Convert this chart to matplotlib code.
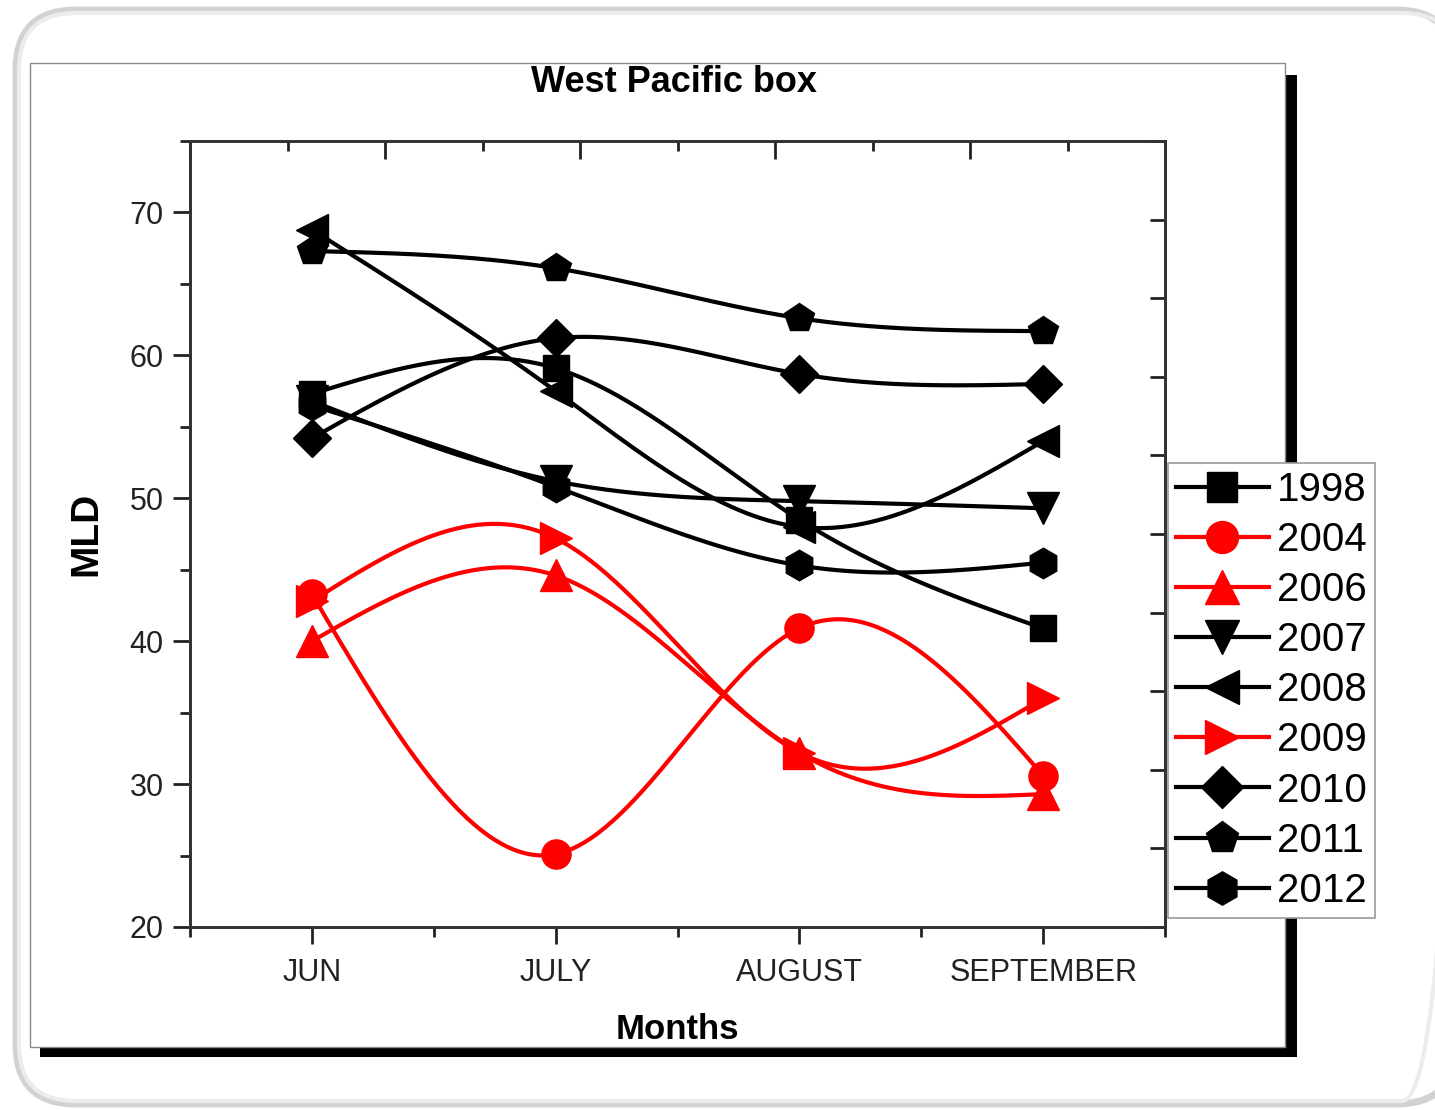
import numpy as np
import matplotlib
matplotlib.use('Agg')
import matplotlib.pyplot as plt
from matplotlib.patches import FancyBboxPatch, Rectangle
from matplotlib.lines import Line2D
from matplotlib.ticker import MultipleLocator

plt.rcParams['font.family'] = ['Liberation Sans', 'DejaVu Sans']

# Mittlere Mischungsschichttiefe (MLD) je Monat und Jahr
months = ['JUN', 'JULY', 'AUGUST', 'SEPTEMBER']
years = ['1998', '2004', '2006', '2007', '2008', '2009', '2010', '2011', '2012']
mld_1998 = [57.3, 59.1, 48.5, 40.9]
mld_2004 = [43.3, 25.1, 40.9, 30.6]
mld_2006 = [40.0, 44.6, 32.2, 29.3]
mld_2007 = [56.8, 51.2, 49.8, 49.3]
mld_2008 = [68.8, 57.5, 48.0, 54.0]
mld_2009 = [42.8, 47.2, 32.2, 36.0]
mld_2010 = [54.2, 61.2, 58.7, 58.0]
mld_2011 = [67.3, 66.1, 62.6, 61.7]
mld_2012 = [56.5, 50.8, 45.3, 45.5]

series = [mld_1998, mld_2004, mld_2006, mld_2007, mld_2008,
          mld_2009, mld_2010, mld_2011, mld_2012]
colors = ['black', 'red', 'red', 'black', 'black', 'red', 'black', 'black', 'black']
markers = ['s', 'o', '^', 'v', '<', '>', 'D', 'p', 'h']
msizes = [19, 21, 23, 23, 23, 23, 19, 22, 22]


def natural_spline(x, y, n=200):
    # natuerlicher kubischer Spline durch die Messpunkte
    x = np.asarray(x, float)
    y = np.asarray(y, float)
    k = len(x)
    h = np.diff(x)
    A = np.zeros((k, k))
    r = np.zeros(k)
    A[0, 0] = A[-1, -1] = 1
    for i in range(1, k - 1):
        A[i, i - 1] = h[i - 1]
        A[i, i] = 2 * (h[i - 1] + h[i])
        A[i, i + 1] = h[i]
        r[i] = 3 * ((y[i + 1] - y[i]) / h[i] - (y[i] - y[i - 1]) / h[i - 1])
    c = np.linalg.solve(A, r)
    b = (y[1:] - y[:-1]) / h - h * (2 * c[:-1] + c[1:]) / 3
    d = (c[1:] - c[:-1]) / (3 * h)
    xs = np.linspace(x[0], x[-1], n)
    idx = np.clip(np.searchsorted(x, xs, side='right') - 1, 0, k - 2)
    dx = xs - x[idx]
    ys = y[idx] + b[idx] * dx + c[idx] * dx ** 2 + d[idx] * dx ** 3
    return xs, ys


W, H = 1435, 1110
fig = plt.figure(figsize=(W / 100, H / 100), dpi=100)

# Hintergrund: abgerundeter Rahmen, Blatt mit Schatten
bg = fig.add_axes([0, 0, 1, 1], zorder=-1)
bg.set_xlim(0, W)
bg.set_ylim(H, 0)
bg.axis('off')
bg.add_patch(FancyBboxPatch((16, 10), 1440, 1094, boxstyle='round,pad=0,rounding_size=60',
                            facecolor='white', edgecolor='#d2d2d2', lw=5))
bg.add_patch(FancyBboxPatch((19, 13), 1440, 1088, boxstyle='round,pad=0,rounding_size=57',
                            facecolor='none', edgecolor='#ececec', lw=3))
bg.add_patch(Rectangle((40, 75), 1257, 982, facecolor='black', edgecolor='none'))
bg.add_patch(Rectangle((30, 63), 1255, 984, facecolor='white', edgecolor='#8a8a8a', lw=1))

ax = fig.add_axes([190 / W, 1 - 927 / H, 975 / W, 786 / H])
xpos = np.arange(len(months))
for vals, col, mk, ms in zip(series, colors, markers, msizes):
    xs, ys = natural_spline(xpos, vals)
    ax.plot(xs, ys, color=col, lw=3, solid_capstyle='round')
    ax.plot(xpos, vals, linestyle='', marker=mk, markersize=ms, color=col)

ax.set_xlim(-0.5, 3.5)
ax.set_ylim(20, 75)
ax.set_xticks(xpos)
ax.set_xticklabels(months)
ax.xaxis.set_minor_locator(MultipleLocator(0.5))
ax.set_yticks(range(20, 71, 10))
ax.yaxis.set_minor_locator(MultipleLocator(5))
ax.tick_params(which='major', direction='out', length=12, width=2, color='#222222',
               labelsize=22, labelcolor='#222222', top=False, right=False)
ax.tick_params(axis='x', which='major', pad=10)
ax.tick_params(axis='y', which='major', pad=7)
ax.tick_params(which='minor', direction='out', length=7, width=2, color='#222222',
               top=False, right=False)
ax.set_xlabel('Months', fontsize=25, fontweight='bold', labelpad=18)
ax.set_ylabel('MLD', fontsize=28, fontweight='bold', labelpad=18)

for sp in ax.spines.values():
    sp.set_linewidth(1.8)
    sp.set_color('#333333')

# rechte und obere Achse mit eigener Teilung ohne Beschriftung
ax_r = ax.twinx()
ax_r.set_ylim(0, 10)
ax_r.set_yticks(range(11))
ax_r.tick_params(direction='in', length=11, width=2, color='#222222', labelright=False)
ax_t = ax.twiny()
ax_t.set_xlim(0, 5)
ax_t.set_xticks(range(6))
ax_t.xaxis.set_minor_locator(MultipleLocator(0.5))
ax_t.tick_params(which='major', direction='in', length=13, width=2, color='#222222', labeltop=False)
ax_t.tick_params(which='minor', direction='in', length=7, width=2, color='#222222')
for a in (ax_r, ax_t):
    for sp in a.spines.values():
        sp.set_linewidth(1.8)
        sp.set_color('#333333')

fig.text(674 / W, 1 - 82 / H, 'West Pacific box', ha='center', va='center',
         fontsize=26, fontweight='bold')

handles = [Line2D([], [], color=c, marker=m, markersize=s + 2, lw=3)
           for c, m, s in zip(colors, markers, msizes)]
leg = fig.legend(handles, years, loc='upper left', bbox_to_anchor=(1168 / W, 1 - 463 / H),
                 bbox_transform=fig.transFigure, borderaxespad=0, fontsize=29,
                 fancybox=False, framealpha=1, edgecolor='#9a9a9a', handlelength=2.3,
                 handletextpad=0.2, labelspacing=0.30, borderpad=0.2)
leg.get_frame().set_linewidth(1.2)

plt.savefig('out.png', dpi=100)
